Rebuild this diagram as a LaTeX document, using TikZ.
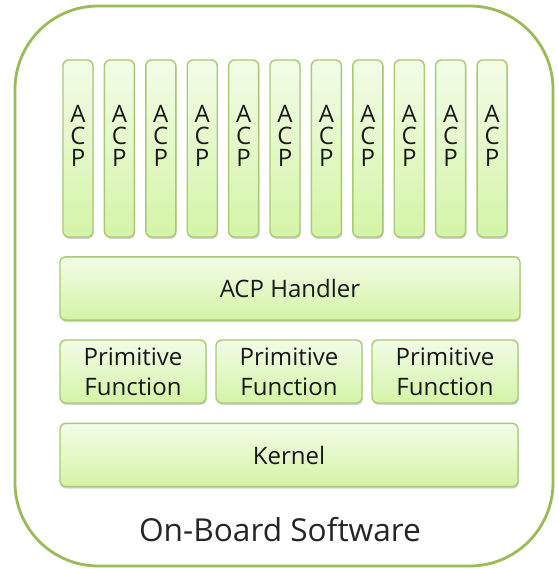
\documentclass[tikz,border=0pt]{standalone}
\usepackage{fontspec}
\setmainfont{Open Sans}
\usetikzlibrary{positioning, shadows}

\definecolor{frameGreen}{HTML}{9BBB59}
\definecolor{boxGreen}{HTML}{A9CA73}
\definecolor{fillTop}{HTML}{F2FCE8}
\definecolor{fillBot}{HTML}{D4F4A6}

\begin{document}
\begin{tikzpicture}[x=0.03cm, y=0.03cm, node distance = 0.3cm,
    block/.style = {draw=boxGreen, line width=1.2pt, rounded corners=5pt,
      top color=fillTop, bottom color=fillBot, text=black!90,
      drop shadow={opacity=0.35, shadow xshift=0.6pt, shadow yshift=-1.6pt},
      font=\fontsize{20.5}{25.6}\selectfont, align=center, inner sep=0pt},
    acp/.style = {block, minimum width=0.9cm, minimum height=5.31cm,
      text depth=0.75cm, font=\fontsize{20.5}{18.6}\selectfont},
    wide/.style = {block, minimum width=13.8cm, minimum height=1.9cm},
    prim/.style = {block, minimum width=4.38cm, minimum height=1.89cm}]
  \useasboundingbox (0,0) rectangle (557,569);

  % outer frame
  \draw[frameGreen, line width=2.4pt, rounded corners=2.5cm, fill=white]
    (15,3) rectangle (553,563);

  % applications
  \node[acp] (acp1) at (78,420.5) {A\\C\\P};
  \node[acp] (acp2) [right = of acp1] {A\\C\\P};
  \node[acp] (acp3) [right = of acp2] {A\\C\\P};
  \node[acp] (acp4) [right = of acp3] {A\\C\\P};
  \node[acp] (acp5) [right = of acp4] {A\\C\\P};
  \node[acp] (acp6) [right = of acp5] {A\\C\\P};
  \node[acp] (acp7) [right = of acp6] {A\\C\\P};
  \node[acp] (acp8) [right = of acp7] {A\\C\\P};
  \node[acp] (acp9) [right = of acp8] {A\\C\\P};
  \node[acp] (acp10) [right = of acp9] {A\\C\\P};
  \node[acp] (acp11) [right = of acp10] {A\\C\\P};

  % layers
  \node[wide] (handler) at (290,280.5) {ACP Handler};
  \node[prim] (prim1) at (133,197.5) {Primitive\\Function};
  \node[prim] (prim2) at (289,197.5) {Primitive\\Function};
  \node[prim] (prim3) at (445,197.5) {Primitive\\Function};
  \node[wide, minimum width=13.74cm] (kernel) at (289,114) {Kernel};

  \node[text=black!85, font=\fontsize{27}{30}\selectfont] (obsw) at (280,39) {On-Board Software};
\end{tikzpicture}
\end{document}
